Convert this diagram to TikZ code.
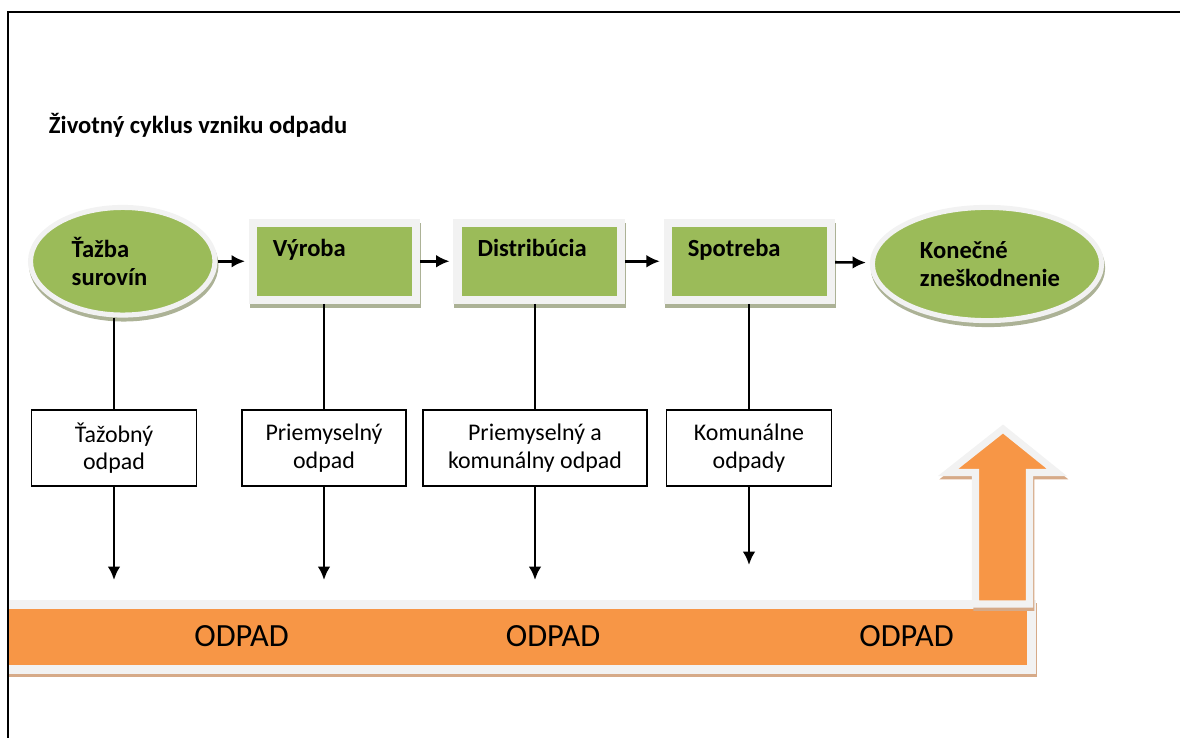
\documentclass[tikz,border=0pt]{standalone}
\usepackage{fontspec}
\setmainfont{Carlito}
\usetikzlibrary{arrows.meta,shapes.geometric,shadows}

\definecolor{stagegreen}{RGB}{155,187,89}
\definecolor{wasteorange}{RGB}{247,150,70}
\definecolor{rimgray}{RGB}{242,242,242}
\definecolor{greenshade}{RGB}{172,178,150}
\definecolor{orangeshade}{RGB}{214,170,136}

\tikzset{
    greenshadow/.style={drop shadow={shadow xshift=0.7pt, shadow yshift=-2.8pt, fill=greenshade, draw=greenshade, opacity=1}},
    orangeshadow/.style={drop shadow={shadow xshift=1pt, shadow yshift=-2.4pt, fill=orangeshade, draw=orangeshade, line width=#1, opacity=1}},
    stagebox/.style={rectangle, draw=rimgray, line width=5.7pt, fill=stagegreen, inner sep=0pt,
        minimum width=4.08cm, minimum height=1.93cm, text width=3.08cm, align=left,
        text height=12pt, text depth=18.4pt, font=\fontsize{17.5}{20}\selectfont\bfseries, greenshadow},
    stageoval/.style={ellipse, draw=rimgray, line width=3.6pt, fill=stagegreen, inner sep=0pt,
        align=left, font=\fontsize{17.5}{20}\selectfont\bfseries, greenshadow},
    wastebox/.style={rectangle, draw=black, line width=0.9pt, fill=white, inner sep=0pt,
        minimum height=1.9cm, align=center, font=\fontsize{17}{19.5}\selectfont},
    bandtext/.style={font=\fontsize{23}{27}\selectfont},
    conn/.style={line width=1.8pt},
}

\begin{document}
\begin{tikzpicture}[x=0.025cm, y=-0.025cm, >={Latex[length=9.5pt,width=9pt]}]
    \useasboundingbox (0,0) rectangle (1180,738);

    % frame
    \draw[line width=1.4pt] (8,738) -- (8,12) -- (1180,12);

    \node[anchor=base west, font=\fontsize{17.5}{20}\selectfont\bfseries] (title) at (44,133) {Životný cyklus vzniku odpadu};

    % stages
    \node[stageoval, minimum width=4.61cm, minimum height=2.69cm, text width=2.55cm] (tazba) at (122.75,261.25) {Ťažba\\surovín};
    \node[stagebox] (vyroba) [right of=tazba, node distance=5.294cm] {Výroba};
    \node[stagebox] (distr) [right of=vyroba, node distance=5.1125cm] {Distribúcia};
    \node[stagebox] (spotr) [right of=distr, node distance=5.256cm] {Spotreba};
    \node[stageoval, minimum width=5.73cm, minimum height=2.83cm, text width=3.35cm] (konec) at (987,264) {Konečné\\zneškodnenie};

    \path[->, conn, shorten >=2.8pt] (tazba) edge[conn] (vyroba);
    \path[->, conn, shorten >=2.8pt] (vyroba) edge[conn] (distr);
    \path[->, conn, shorten >=2.8pt] (distr) edge[conn] (spotr);
    \path[->, conn, shorten >=2.8pt] (spotr) edge[conn] (konec);

    % waste
    \node[wastebox, minimum width=4.13cm] (odp1) at (114,448) {Ťažobný\\odpad};
    \node[wastebox, minimum width=4.1cm] (odp2) at (324,448) {Priemyselný\\odpad};
    \node[wastebox, minimum width=5.6cm] (odp3) at (535,448) {Priemyselný a\\komunálny odpad};
    \node[wastebox, minimum width=4.13cm] (odp4) at (749,448) {Komunálne\\odpady};

    \draw[conn] (odp1.north |- tazba.south) -- (odp1.north);
    \draw[conn] (odp2.north |- vyroba.south) -- (odp2.north);
    \draw[conn] (odp3.north |- distr.south) -- (odp3.north);
    \draw[conn] (odp4.north |- spotr.south) -- (odp4.north);

    \coordinate (end1) at (114,580);
    \coordinate (end2) at (324,580);
    \coordinate (end3) at (535,580);
    \coordinate (end4) at (749,565);
    \draw[->, conn] (odp1) -- (end1);
    \draw[->, conn] (odp2) -- (end2);
    \draw[->, conn] (odp3) -- (end3);
    \draw[->, conn] (odp4) -- (end4);

    % band
    \begin{scope}
        \clip (9,0) rectangle (1180,738);
        \path[draw=rimgray, line width=6.4pt, fill=wasteorange, orangeshadow=6.4pt] (0,604.5) rectangle (1031.5,669);
    \end{scope}
    \path[draw=rimgray, line width=5pt, line join=miter, fill=wasteorange, orangeshadow=5pt]
        (975.5,604) -- (975.5,472.5) -- (948,472.5) -- (1003,429) -- (1057,472.5) -- (1029.5,472.5) -- (1029.5,604) -- cycle;

    \node[bandtext] (odpadA) at (241.5,636) {ODPAD};
    \node[bandtext] (odpadB) at (553,636) {ODPAD};
    \node[bandtext] (odpadC) at (906.5,636) {ODPAD};
\end{tikzpicture}
\end{document}
